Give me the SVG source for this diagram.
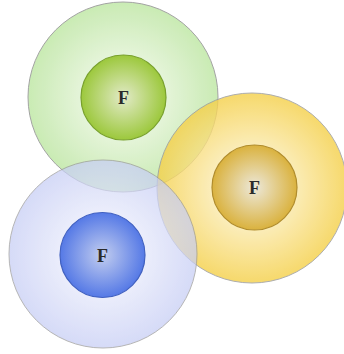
<svg xmlns="http://www.w3.org/2000/svg" width="344" height="354" viewBox="0 0 344 354">
<defs>
<radialGradient id="gOut"><stop offset="0.3" stop-color="#eaf6e0"/><stop offset="1" stop-color="#c4e9ac"/></radialGradient>
<radialGradient id="gIn"><stop offset="0" stop-color="#e2eac8"/><stop offset="1" stop-color="#9cc83c"/></radialGradient>
<radialGradient id="yOut"><stop offset="0.3" stop-color="#fcefc0"/><stop offset="1" stop-color="#f5d048"/></radialGradient>
<radialGradient id="yIn"><stop offset="0" stop-color="#ece8da"/><stop offset="1" stop-color="#dab23e"/></radialGradient>
<radialGradient id="bOut"><stop offset="0.3" stop-color="#eceefc"/><stop offset="1" stop-color="#c6cdf5"/></radialGradient>
<radialGradient id="bIn"><stop offset="0" stop-color="#c2cdef"/><stop offset="1" stop-color="#5579e6"/></radialGradient>
<style>
.outer{stroke:#9a9a9a;stroke-width:1}
.inner{stroke-width:1.2}
.lbl{font-family:"Liberation Serif",serif;font-size:18px;font-weight:bold;fill:#2a2a2a;text-anchor:middle}
</style>
</defs>
<g id="green">
<circle class="outer" cx="123" cy="97" r="95" fill="url(#gOut)" opacity="0.9"/>
<circle class="inner" cx="123.5" cy="97.5" r="42.5" fill="url(#gIn)" stroke="#78a02c"/>
<text class="lbl" x="123.5" y="104">F</text>
</g>
<g id="yellow">
<circle class="outer" cx="252" cy="188" r="95" fill="url(#yOut)" opacity="0.8"/>
<circle class="inner" cx="254.5" cy="187.5" r="42.5" fill="url(#yIn)" stroke="#b08c2c"/>
<text class="lbl" x="254.5" y="194">F</text>
</g>
<g id="blue">
<circle class="outer" cx="103" cy="254" r="94" fill="url(#bOut)" opacity="0.72"/>
<circle class="inner" cx="102.5" cy="255" r="42.5" fill="url(#bIn)" stroke="#4060c0"/>
<text class="lbl" x="102.5" y="261.5">F</text>
</g>
<g id="connectors"/>
</svg>
